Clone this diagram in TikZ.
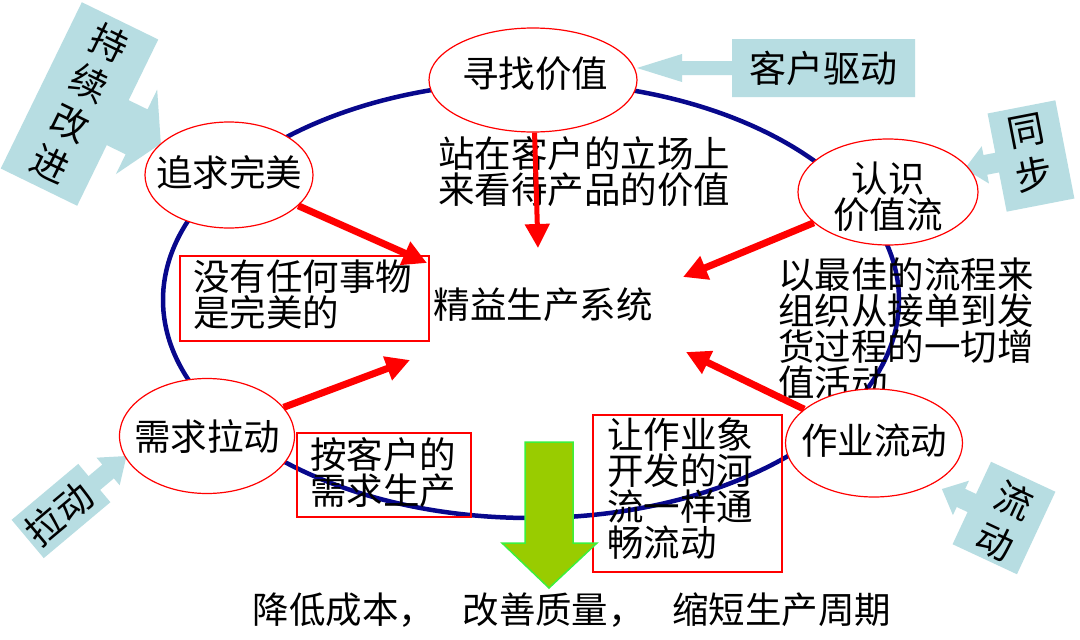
\documentclass[tikz,border=0pt]{standalone}
\usepackage{fontspec}
\setmainfont{Noto Sans CJK SC}
\usetikzlibrary{arrows.meta,shapes.geometric}
\definecolor{navyring}{RGB}{8,8,140}
\definecolor{callblue}{RGB}{183,221,226}
\definecolor{leafgreen}{RGB}{153,204,0}
\definecolor{limeedge}{RGB}{60,240,60}
% #1 colour, #2 W, #3 H, #4 c, #5 s, #6 Ls, #7 h, #8 Lh
\newcommand{\mycallout}[8]{%
 \fill[#1] ({-(#2)/2},{-(#3)/2}) -- ({(#2)/2},{-(#3)/2}) -- ({(#2)/2},{(#4)-(#5)})
  -- ({(#2)/2+(#6)},{(#4)-(#5)}) -- ({(#2)/2+(#6)},{(#4)-(#7)}) -- ({(#2)/2+(#6)+(#8)},{#4})
  -- ({(#2)/2+(#6)},{(#4)+(#7)}) -- ({(#2)/2+(#6)},{(#4)+(#5)}) -- ({(#2)/2},{(#4)+(#5)})
  -- ({(#2)/2},{(#3)/2}) -- ({-(#2)/2},{(#3)/2}) -- cycle;}
\begin{document}
\begin{tikzpicture}[x=1pt,y=-1pt,
  ell/.style={ellipse,draw=red,line width=1.2pt,fill=white,inner sep=0pt},
  redbox/.style={draw=red,line width=1.6pt,inner sep=0pt},
  txt/.style={font=\fontsize{36.5}{36}\selectfont,inner sep=0pt},
  calltxt/.style={font=\fontsize{37}{45}\selectfont,inner sep=0pt,align=center},
  redarrow/.style={draw=red,line width=7pt,-{Triangle[length=24pt,width=24pt]}}
]
\useasboundingbox (0,0) rectangle (1080,640);
\fill[white] (0,0) rectangle (1080,640);

% big ring
\draw[navyring,line width=4.5pt] (531,300) ellipse [x radius=368pt, y radius=218pt];

% light blue callouts
\begin{scope}[shift={(823.5,68)},xscale=-1]
  \mycallout{callblue}{183}{58}{0}{7}{50}{14}{45}
\end{scope}
\node[calltxt] (kh) at (823,68) {客户驱动};

\begin{scope}[shift={(79.5,104)},rotate=-26]
  \mycallout{callblue}{85}{185}{0}{25}{21}{47}{27}
\end{scope}
\node[calltxt,rotate=-26] (cx) at (80,103) {持\\续\\改\\进};

\begin{scope}[shift={(1031,156)},rotate=11,xscale=-1]
  \mycallout{callblue}{69}{100}{0}{10}{12}{19}{21}
\end{scope}
\node[calltxt,rotate=11] (tb) at (1030,153) {同\\步};

\begin{scope}[shift={(1004,518)},rotate=-25,xscale=-1]
  \mycallout{callblue}{71}{91}{0}{10}{12}{19}{21}
\end{scope}
\node[calltxt,rotate=-25] (ld) at (1005,521) {流\\动};

\begin{scope}[shift={(61,511)},rotate=40]
  \mycallout{callblue}{87}{50}{0}{9}{18}{18}{24}
\end{scope}
\node[calltxt,rotate=40] (lad) at (59,514) {拉动};

% red text boxes
\node[redbox,minimum width=249pt,minimum height=85pt] (b1) at (304.5,298.5) {};
\node[redbox,minimum width=174pt,minimum height=84pt] (b2) at (384,475) {};
\node[redbox,minimum width=189pt,minimum height=157pt] (b3) at (687.5,493.5) {};

% green arrow
\filldraw[fill=leafgreen,draw=limeedge,line width=1.5pt]
  (525,442) -- (573,442) -- (573,543) -- (597,543) -- (549,588) -- (502,543) -- (525,543) -- cycle;

% texts
\node[txt,align=center] (t1) at (584,172) {站在客户的立场上\\来看待产品的价值};
\node[txt] (core) at (543,305) {精益生产系统};
\node[txt,align=left,anchor=west] (t2) at (778,329) {以最佳的流程来\\组织从接单到发\\货过程的一切增\\值活动};
\node[txt,align=left,anchor=west] (t3) at (193,295) {没有任何事物\\是完美的};
\node[txt,align=left,anchor=west] (t4) at (310,473) {按客户的\\需求生产};
\node[txt,align=left,anchor=west] (t5) at (607,489) {让作业象\\开发的河\\流一样通\\畅流动};
\node[txt] (bottom) at (572,610) {降低成本，\hspace{0.75em}改善质量，\hspace{0.75em}缩短生产周期};

% small ellipses
\node[ell,minimum width=208pt,minimum height=104pt] (xz) at (533,80) {};
\node[ell,minimum width=168pt,minimum height=106pt] (zq) at (229,175) {};
\node[ell,minimum width=180pt,minimum height=106pt] (rs) at (888,192) {};
\node[ell,minimum width=175pt,minimum height=115pt] (xq) at (207,436) {};
\node[ell,minimum width=177pt,minimum height=108pt] (zy) at (874,443) {};
\node[txt] (xzt) at (535,74) {寻找价值};
\node[txt] (zqt) at (229,172) {追求完美};
\node[txt,align=center] (rst) at (888,197) {认识\\价值流};
\node[txt] (xqt) at (207,437) {需求拉动};
\node[txt] (zyt) at (874,441) {作业流动};

% red arrows
\coordinate (a1) at (427,263);
\coordinate (a2) at (538,248);
\coordinate (a3) at (683,277);
\coordinate (a4) at (410,360);
\coordinate (a5) at (686,352);
\draw[redarrow] (zq) -- (a1);
\draw[redarrow,line width=5pt] (xz) -- (a2);
\draw[redarrow] (rs) -- (a3);
\draw[redarrow] (xq) -- (a4);
\draw[redarrow] (zy) -- (a5);
\end{tikzpicture}
\end{document}
